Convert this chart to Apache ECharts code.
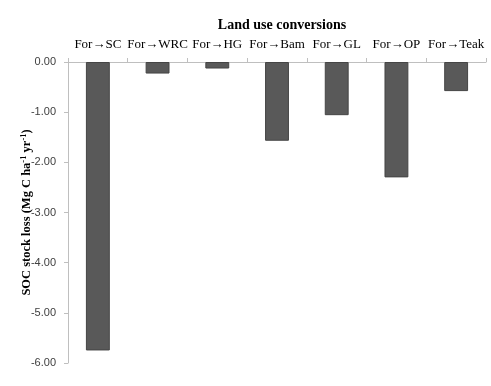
<!DOCTYPE html>
<html><head><meta charset="utf-8">
<script src="https://cdn.jsdelivr.net/npm/echarts@6/dist/echarts.min.js"></script>
<style>html,body{margin:0;padding:0;background:#fff}#c{width:491px;height:386px}</style>
</head><body><div id="c"></div>
<script>
const categories = ['For\u2192SC','For\u2192WRC','For\u2192HG','For\u2192Bam','For\u2192GL','For\u2192OP','For\u2192Teak'];
const socLoss = [-5.75, -0.23, -0.13, -1.57, -1.06, -2.30, -0.58];
const chart = echarts.init(document.getElementById('c'));
chart.setOption({
  animation: false,
  backgroundColor: '#fff',
  title: {
    text: 'Land use conversions', left: 277, textAlign: 'center', top: 13,
    textStyle: {fontFamily: 'Liberation Serif', fontWeight: 'bold', fontSize: 14, color: '#000'}
  },
  grid: {left: 68, right: 5, top: 62, bottom: 23},
  xAxis: {
    type: 'category', data: categories, position: 'top',
    axisLine: {lineStyle: {color: '#bfbfbf'}},
    axisTick: {show: true, length: 4, lineStyle: {color: '#bfbfbf'}},
    axisLabel: {fontFamily: 'Liberation Serif', fontSize: 13, color: '#000', margin: 11, interval: 0}
  },
  yAxis: {
    type: 'value', min: -6, max: 0, interval: 1,
    name: '{b|SOC stock loss (Mg C ha}{s|-1}{b| yr}{s|-1}{b|)}',
    nameLocation: 'middle', nameGap: 34, nameRotate: 90, nameMoveOverlap: false,
    nameTextStyle: {
      rich: {
        b: {fontFamily: 'Liberation Serif', fontWeight: 'bold', fontSize: 12.5, color: '#000', lineHeight: 15},
        s: {fontFamily: 'Liberation Serif', fontWeight: 'bold', fontSize: 8.5, color: '#000', lineHeight: 15, verticalAlign: 'top', padding: [0,0,5,0]}
      }
    },
    splitLine: {show: false},
    axisLine: {show: true, lineStyle: {color: '#bfbfbf'}},
    axisTick: {show: true, length: 4, lineStyle: {color: '#bfbfbf'}},
    axisLabel: {fontFamily: 'Liberation Sans', fontSize: 11, color: '#404040', margin: 12,
      formatter: v => v.toFixed(2)}
  },
  series: [{
    type: 'bar', data: socLoss, barWidth: '40%',
    itemStyle: {color: '#595959', borderColor: '#454545', borderWidth: 1}
  }]
});
</script></body></html>
